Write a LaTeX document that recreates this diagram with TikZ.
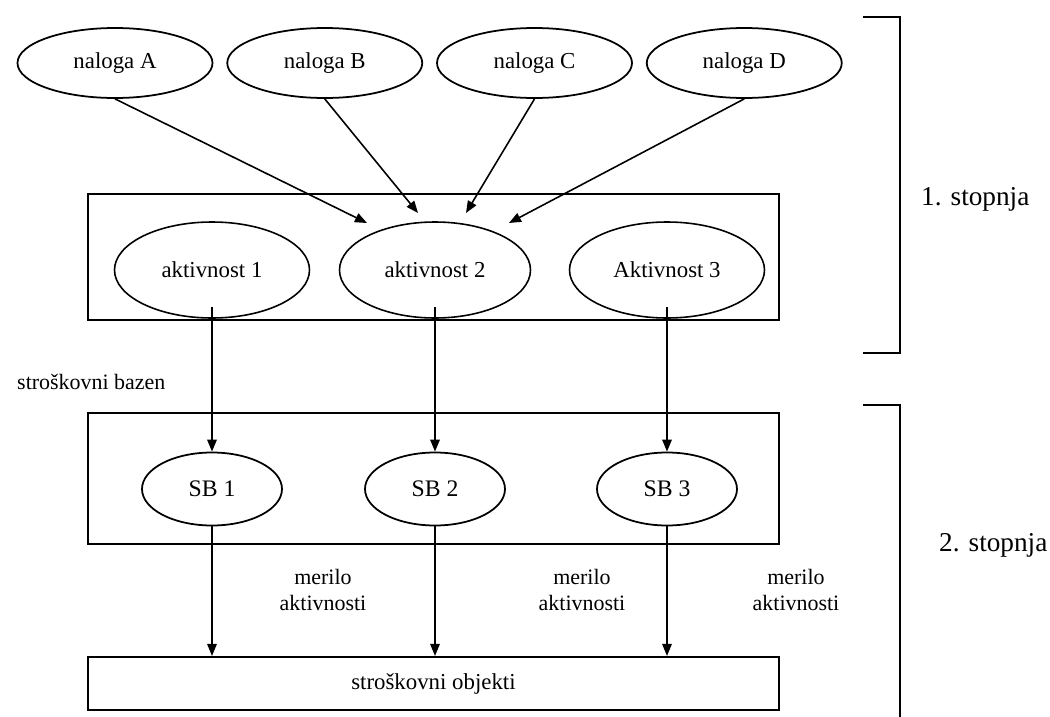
\documentclass[tikz,border=0pt]{standalone}
\usepackage{fontspec}
\setmainfont{Liberation Serif}
\usetikzlibrary{shapes,arrows.meta,positioning,calc}

\begin{document}
\begin{tikzpicture}[
    node distance=0.26cm,
    task/.style={ellipse, draw, line width=1pt, minimum width=3.9cm, minimum height=1.4cm, font=\fontsize{13}{15}\selectfont},
    act/.style={ellipse, draw, line width=0.9pt, minimum width=3.9cm, minimum height=1.92cm, font=\fontsize{13}{15}\selectfont},
    pool/.style={ellipse, draw, line width=1pt, minimum width=2.8cm, minimum height=1.46cm, font=\fontsize{13.5}{15}\selectfont},
    frame/.style={rectangle, draw, line width=1.2pt, minimum width=13.82cm, font=\fontsize{13}{15}\selectfont},
    note/.style={align=center, font=\fontsize{12.5}{14.8}\selectfont},
    stage/.style={anchor=west, font=\fontsize{15.5}{18}\selectfont},
    arrow/.style={-{Triangle[length=2.4mm,width=1.9mm]}, line width=0.9pt}
]
    \useasboundingbox (0,0) rectangle (21,-14.34);

    % Naloge
    \node[task] (nA) at (2.30,-1.26) {naloga A};
    \node[task, right=of nA] (nB) {naloga B};
    \node[task, right=of nB] (nC) {naloga C};
    \node[task, right=of nC] (nD) {naloga D};

    % Okvirji
    \node[frame, minimum height=2.52cm] (box1) at (8.67,-5.14) {};
    \node[frame, minimum height=2.62cm] (box2) at (8.67,-9.57) {};
    \node[frame, minimum height=1.06cm] (obj) at (8.67,-13.67) {stroškovni objekti};

    % Aktivnosti
    \node[act] (a1) at (4.24,-5.40) {aktivnost 1};
    \node[act, minimum width=3.82cm] (a2) at (8.70,-5.40) {aktivnost 2};
    \node[act] (a3) at (13.34,-5.40) {Aktivnost 3};

    % Stroškovni bazeni
    \node[pool] (sb1) at (4.24,-9.78) {SB 1};
    \node[pool] (sb2) at (8.70,-9.78) {SB 2};
    \node[pool] (sb3) at (13.34,-9.78) {SB 3};

    % Konci puščic
    \coordinate (tA) at (7.34,-4.46);
    \coordinate (tB) at (8.36,-4.26);
    \coordinate (tC) at (9.32,-4.26);
    \coordinate (tD) at (10.18,-4.46);

    % Besedila
    \node[note, anchor=west] (bazen) at (0.22,-7.64) {stroškovni bazen};
    \node[note] (m1) at (6.46,-11.80) {merilo\\aktivnosti};
    \node[note] (m2) at (11.64,-11.80) {merilo\\aktivnosti};
    \node[note] (m3) at (15.92,-11.80) {merilo\\aktivnosti};
    \node[stage] (st1) at (18.30,-3.98) {1. stopnja};
    \node[stage] (st2) at (18.66,-10.90) {2. stopnja};

    % Oklepaja
    \draw[line width=1pt] (17.26,-0.34) -- (18.0,-0.34) -- (18.0,-7.06) -- (17.26,-7.06);
    \draw[line width=1pt] (17.26,-8.10) -- (18.0,-8.10) -- (18.0,-14.34);

    % Puščice
    \draw[arrow] (nA.south) -- (tA);
    \draw[arrow] (nB.south) -- (tB);
    \draw[arrow] (nC.south) -- (tC);
    \draw[arrow] (nD.south) -- (tD);
    \draw[arrow] ([yshift=0.23cm]a1.south) -- (sb1.north);
    \draw[arrow] ([yshift=0.23cm]a2.south) -- (sb2.north);
    \draw[arrow] ([yshift=0.23cm]a3.south) -- (sb3.north);
    \draw[arrow] (sb1.south) -- (sb1.south |- obj.north);
    \draw[arrow] (sb2.south) -- (sb2.south |- obj.north);
    \draw[arrow] (sb3.south) -- (sb3.south |- obj.north);
\end{tikzpicture}
\end{document}
